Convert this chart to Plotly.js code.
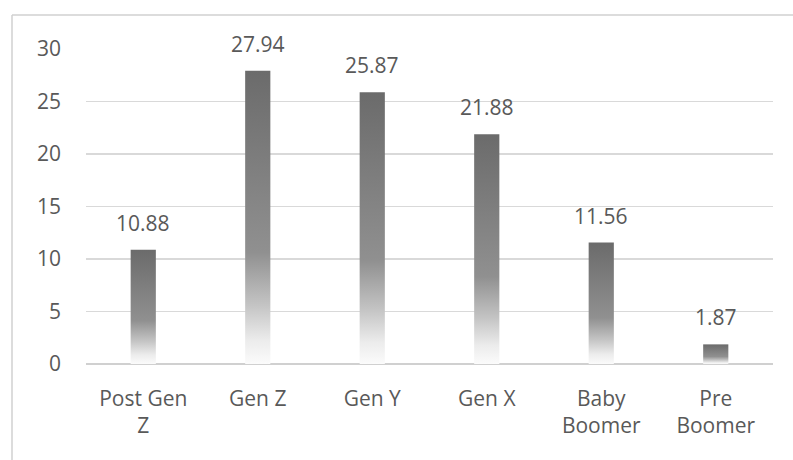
<!DOCTYPE html>
<html>
<head>
<meta charset="utf-8">
<script src="https://cdn.plot.ly/plotly-3.0.1.min.js"></script>
<style>html,body{margin:0;padding:0;background:#fff}#chart{width:793px;height:460px}</style>
</head>
<body>
<div id="chart"></div>
<script>
const categories = ["Post Gen<br>Z", "Gen Z", "Gen Y", "Gen X", "Baby<br>Boomer", "Pre<br>Boomer"];
const values = [10.88, 27.94, 25.87, 21.88, 11.56, 1.87];
const valueLabels = ["10.88", "27.94", "25.87", "21.88", "11.56", "1.87"];
const yTicks = [0, 5, 10, 15, 20, 25, 30];

const FONT = "Open Sans, Liberation Sans, sans-serif";
const TXT = "#595959";

const trace = {
  type: "bar",
  x: categories,
  y: values,
  width: 0.22,
  marker: { color: "#7a7a7a", line: { width: 0 } },
  hoverinfo: "skip"
};

const annotations = categories.map((c, i) => ({
  x: c, y: values[i], xref: "x", yref: "y",
  text: valueLabels[i], showarrow: false,
  yanchor: "bottom", yshift: 11,
  font: { family: FONT, size: 21, color: TXT }
}));

const layout = {
  width: 793, height: 460,
  margin: { l: 86, r: 20, t: 49, b: 96 },
  paper_bgcolor: "#ffffff", plot_bgcolor: "#ffffff",
  showlegend: false,
  xaxis: {
    type: "category",
    showgrid: false, showline: false, zeroline: false,
    ticks: "", ticklabelstandoff: 20,
    tickfont: { family: FONT, size: 21, color: TXT }
  },
  yaxis: {
    range: [0, 30],
    tickvals: yTicks,
    ticktext: yTicks.map(String),
    showgrid: true, gridcolor: "#d9d9d9", gridwidth: 1.5,
    zeroline: true, zerolinecolor: "#d0d0d0", zerolinewidth: 1.5,
    showline: false, ticks: "", ticklabelstandoff: 24,
    tickfont: { family: FONT, size: 21, color: TXT }
  },
  annotations: annotations,
  shapes: [
    { type: "line", xref: "paper", yref: "paper",
      x0: (12 - 86) / 687, x1: (800 - 86) / 687,
      y0: (364 - 15) / 315, y1: (364 - 15) / 315,
      line: { color: "#d0d0d0", width: 1.5 } },
    { type: "line", xref: "paper", yref: "paper",
      x0: (12 - 86) / 687, x1: (12 - 86) / 687,
      y0: (364 - 15) / 315, y1: (364 - 470) / 315,
      line: { color: "#d0d0d0", width: 1.5 } }
  ]
};

function applyGradient(gd) {
  const svg = gd.querySelector("svg.main-svg");
  if (!svg) return;
  const ns = "http://www.w3.org/2000/svg";
  let defs = svg.querySelector("defs");
  if (!defs) { defs = document.createElementNS(ns, "defs"); svg.insertBefore(defs, svg.firstChild); }
  if (!svg.querySelector("#barGrad")) {
    const g = document.createElementNS(ns, "linearGradient");
    g.setAttribute("id", "barGrad");
    g.setAttribute("x1", "0"); g.setAttribute("y1", "0");
    g.setAttribute("x2", "0"); g.setAttribute("y2", "1");
    [["0", "#6b6b6b"], ["0.62", "#909090"], ["0.8", "#c4c4c4"], ["0.92", "#ececec"], ["1", "#fbfbfb"]].forEach(s => {
      const st = document.createElementNS(ns, "stop");
      st.setAttribute("offset", s[0]);
      st.setAttribute("stop-color", s[1]);
      g.appendChild(st);
    });
    defs.appendChild(g);
  }
  gd.querySelectorAll(".barlayer .point path").forEach(p => {
    p.style.fill = "url(#barGrad)";
    p.style.fillOpacity = 1;
  });
}

const gd = document.getElementById("chart");
Plotly.newPlot(gd, [trace], layout, { displayModeBar: false, staticPlot: true }).then(() => {
  applyGradient(gd);
  gd.on("plotly_afterplot", () => applyGradient(gd));
});
</script>
</body>
</html>
